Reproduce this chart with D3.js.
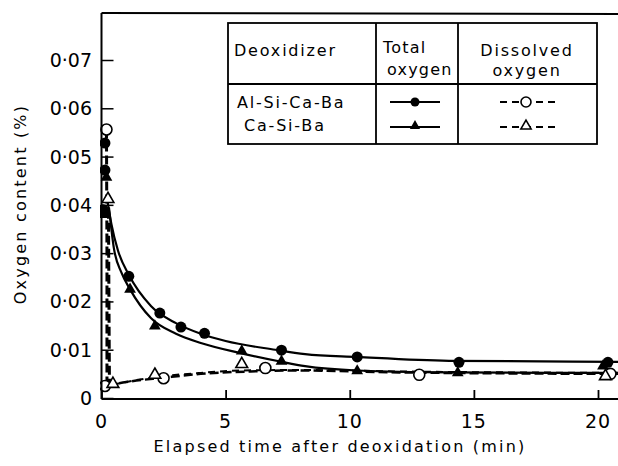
<!DOCTYPE html>
<html>
<head>
<meta charset="utf-8">
<script src="https://cdn.jsdelivr.net/npm/d3@7"></script>
<style>
  body { margin: 0; background: #fff; }
  svg { font-family: "DejaVu Sans", sans-serif; }
</style>
</head>
<body>
<div id="chart"></div>
<script>
// tick values / labels
var xTicks = [0, 5, 10, 15, 20];
var yTicks = [0, 0.01, 0.02, 0.03, 0.04, 0.05, 0.06, 0.07];
var yTickLabels = ["0", "0·01", "0·02", "0·03", "0·04", "0·05", "0·06", "0·07"];

// total oxygen, Al-Si-Ca-Ba (filled circles)
var alTotalTime = [0.06, 0.14, 0.14, 1.1, 2.35, 3.2, 4.15, 7.25, 10.3, 14.4, 20.4];
var alTotalO = [0.039, 0.0528, 0.0472, 0.0252, 0.0176, 0.0147, 0.0134, 0.0099, 0.0085, 0.0074, 0.0074];
// total oxygen, Ca-Si-Ba (filled triangles)
var caTotalTime = [0.08, 0.2, 1.15, 2.15, 5.65, 7.25, 10.3, 14.35, 20.2];
var caTotalO = [0.0378, 0.0455, 0.0223, 0.0147, 0.0095, 0.0074, 0.0054, 0.005, 0.0064];
// dissolved oxygen, Al-Si-Ca-Ba (open circles)
var alDissTime = [0.2, 0.14, 2.5, 6.6, 12.8, 20.5];
var alDissO = [0.0556, 0.0025, 0.0041, 0.0062, 0.0048, 0.005];
// dissolved oxygen, Ca-Si-Ba (open triangles)
var caDissTime = [0.26, 0.46, 2.15, 5.65, 20.3];
var caDissO = [0.041, 0.0027, 0.0046, 0.0068, 0.0043];

// fitted curves
var alFitTime = [0.25, 0.4, 0.66, 1.1, 2, 3, 4, 5, 7, 8.2, 10.3, 14, 20.9];
var alFitO = [0.0405, 0.036, 0.0306, 0.0255, 0.019, 0.0155, 0.0133, 0.0118, 0.0100, 0.0091, 0.0085, 0.0077, 0.0075];
var caFitTime = [0.3, 0.5, 0.8, 1.15, 2, 3, 4, 5.6, 7.25, 8.2, 10.3, 14, 20.9];
var caFitO = [0.0395, 0.031, 0.026, 0.0225, 0.0165, 0.0133, 0.0114, 0.0093, 0.0075, 0.0066, 0.0057, 0.0053, 0.0052];
var alDropTime = [0.2, 0.22, 0.22];
var alDropO = [0.0556, 0.03, 0.0025];
var caDropTime = [0.28, 0.3, 0.32];
var caDropO = [0.039, 0.02, 0.003];
var alDashTime = [0.2, 1, 2.5, 4, 6, 8, 12, 20.9];
var alDashO = [0.0025, 0.0033, 0.0042, 0.005, 0.0055, 0.0057, 0.0053, 0.005];
var caDashTime = [0.46, 2.15, 4, 5.65, 8, 12, 20.9];
var caDashO = [0.0028, 0.0043, 0.0052, 0.0057, 0.0058, 0.0055, 0.0052];

var legendRows = ["Al-Si-Ca-Ba", "Ca-Si-Ba"];

var width = 618, height = 466;
var svg = d3.select("#chart").append("svg")
    .attr("width", width)
    .attr("height", height);

var x = d3.scaleLinear().domain([0, 20]).range([101.5, 598]);
var y = d3.scaleLinear().domain([0, 0.07]).range([398, 60]);

function zip(a, b) { return a.map(function (v, i) { return [v, b[i]]; }); }

var plot = svg.append("g");
plot.append("clipPath").attr("id", "clip")
    .append("rect").attr("x", 100).attr("y", 10).attr("width", 520).attr("height", 392);

// frame
svg.append("line").attr("x1", 101.5).attr("x2", 618).attr("y1", 13).attr("y2", 14)
    .attr("stroke", "#000").attr("stroke-width", 2);

// x axis (ticks inward)
var xAxis = svg.append("g")
    .attr("transform", "translate(0,399)")
    .call(d3.axisTop(x).tickValues(xTicks).tickSize(9).tickFormat(""));
xAxis.select(".domain").attr("d", "M101.5,0H618").attr("stroke-width", 2);
xAxis.selectAll(".tick line").attr("stroke-width", 1.8);
svg.append("g").selectAll("text").data(xTicks).enter().append("text")
    .attr("x", function (d) { return x(d); })
    .attr("y", 428)
    .attr("text-anchor", "middle")
    .attr("font-size", 19)
    .attr("letter-spacing", 1)
    .text(function (d) { return d; });

// y axis (ticks inward)
var yAxis = svg.append("g")
    .attr("transform", "translate(101.5,0)")
    .call(d3.axisRight(y).tickValues(yTicks).tickSize(12).tickFormat(""));
yAxis.select(".domain").attr("d", "M0,13V399").attr("stroke-width", 2);
yAxis.selectAll(".tick line").attr("stroke-width", 1.5);
svg.append("g").selectAll("text").data(yTicks).enter().append("text")
    .attr("x", 92)
    .attr("y", function (d) { return y(d) + 7; })
    .attr("text-anchor", "end")
    .attr("font-size", 19)
    .text(function (d, i) { return yTickLabels[i]; });

// axis titles
svg.append("text")
    .attr("x", 340).attr("y", 452)
    .attr("text-anchor", "middle")
    .attr("font-size", 16)
    .attr("letter-spacing", 2.2)
    .text("Elapsed time after deoxidation (min)");
svg.append("text")
    .attr("transform", "translate(26,204) rotate(-90)")
    .attr("text-anchor", "middle")
    .attr("font-size", 16)
    .attr("letter-spacing", 2.2)
    .text("Oxygen content (%)");

// lines
var line = d3.line().x(function (d) { return x(d[0]); }).y(function (d) { return y(d[1]); });
var curve = d3.line().curve(d3.curveMonotoneX)
    .x(function (d) { return x(d[0]); }).y(function (d) { return y(d[1]); });
var lines = plot.append("g").attr("clip-path", "url(#clip)").attr("fill", "none").attr("stroke", "#000");
lines.append("path").attr("d", curve(zip(alFitTime, alFitO))).attr("stroke-width", 2.2);
lines.append("path").attr("d", curve(zip(caFitTime, caFitO))).attr("stroke-width", 2.2);
lines.append("path").attr("d", line(zip(alDropTime, alDropO))).attr("stroke-width", 3).attr("stroke-dasharray", "9,4");
lines.append("path").attr("d", line(zip(caDropTime, caDropO))).attr("stroke-width", 3).attr("stroke-dasharray", "9,4");
lines.append("path").attr("d", curve(zip(alDashTime, alDashO))).attr("stroke-width", 2.5).attr("stroke-dasharray", "9,4");
lines.append("path").attr("d", curve(zip(caDashTime, caDashO))).attr("stroke-width", 2).attr("stroke-dasharray", "7,5");

// markers
var tri = d3.symbol().type(d3.symbolTriangle).size(60);
var pts = plot.append("g").attr("clip-path", "url(#clip)");
pts.selectAll(".alT").data(zip(alTotalTime, alTotalO)).enter().append("circle")
    .attr("cx", function (d) { return x(d[0]); }).attr("cy", function (d) { return y(d[1]); })
    .attr("r", 5.5).attr("fill", "#000");
pts.selectAll(".caT").data(zip(caTotalTime, caTotalO)).enter().append("path")
    .attr("d", tri)
    .attr("transform", function (d) { return "translate(" + x(d[0]) + "," + (y(d[1]) - 1) + ")"; })
    .attr("fill", "#000");
pts.selectAll(".alD").data(zip(alDissTime, alDissO)).enter().append("circle")
    .attr("cx", function (d) { return x(d[0]); }).attr("cy", function (d) { return y(d[1]); })
    .attr("r", 5.5).attr("fill", "#fff").attr("stroke", "#000").attr("stroke-width", 1.6);
pts.selectAll(".caD").data(zip(caDissTime, caDissO)).enter().append("path")
    .attr("d", tri)
    .attr("transform", function (d) { return "translate(" + x(d[0]) + "," + (y(d[1]) - 1) + ")"; })
    .attr("fill", "#fff").attr("stroke", "#000").attr("stroke-width", 1.6);

// legend table
var lg = svg.append("g").attr("stroke", "#000").attr("fill", "none").attr("stroke-width", 1.8);
lg.append("rect").attr("x", 228).attr("y", 23).attr("width", 369).attr("height", 121);
lg.append("line").attr("x1", 228).attr("x2", 597).attr("y1", 84).attr("y2", 84);
lg.append("line").attr("x1", 376).attr("x2", 376).attr("y1", 23).attr("y2", 144);
lg.append("line").attr("x1", 458).attr("x2", 458).attr("y1", 23).attr("y2", 144);

var lt = svg.append("g").attr("font-size", 16).attr("letter-spacing", 1.8).attr("fill", "#000");
lt.append("text").attr("x", 234).attr("y", 56).text("Deoxidizer");
lt.append("text").attr("x", 383).attr("y", 53).attr("letter-spacing", 1.2).text("Total");
lt.append("text").attr("x", 387).attr("y", 75).attr("letter-spacing", 1.2).text("oxygen");
lt.append("text").attr("x", 527).attr("y", 56).attr("text-anchor", "middle").text("Dissolved");
lt.append("text").attr("x", 527).attr("y", 76).attr("text-anchor", "middle").text("oxygen");
lt.selectAll(".row").data(legendRows).enter().append("text")
    .attr("x", function (d, i) { return i === 0 ? 237 : 244; })
    .attr("y", function (d, i) { return 108 + i * 23; })
    .text(function (d) { return d; });

var ly = [102, 127];
var sym = svg.append("g");
ly.forEach(function (yy) {
    sym.append("line").attr("x1", 390).attr("x2", 440).attr("y1", yy).attr("y2", yy)
        .attr("stroke", "#000").attr("stroke-width", 1.8);
    sym.append("line").attr("x1", 500).attr("x2", 555).attr("y1", yy).attr("y2", yy)
        .attr("stroke", "#000").attr("stroke-width", 1.8).attr("stroke-dasharray", "7,5");
});
sym.append("circle").attr("cx", 415).attr("cy", ly[0]).attr("r", 4.5).attr("fill", "#000");
sym.append("path").attr("d", tri.size(45)).attr("transform", "translate(415," + (ly[1] - 1) + ")").attr("fill", "#000");
sym.append("circle").attr("cx", 526).attr("cy", ly[0]).attr("r", 5).attr("fill", "#fff").attr("stroke", "#000").attr("stroke-width", 1.6);
sym.append("path").attr("d", tri.size(45)).attr("transform", "translate(526," + (ly[1] - 1) + ")").attr("fill", "#fff").attr("stroke", "#000").attr("stroke-width", 1.6);
</script>
</body>
</html>
